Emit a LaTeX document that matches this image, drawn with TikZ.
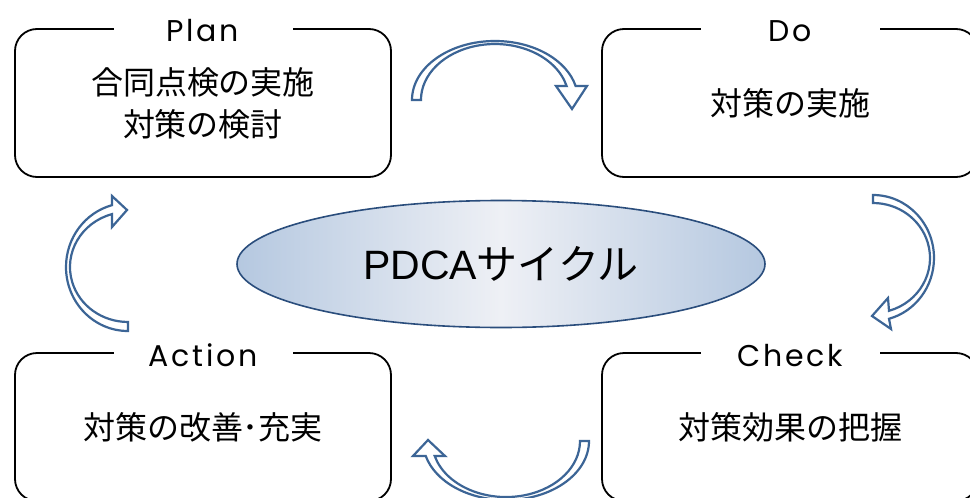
\documentclass[tikz,border=0pt]{standalone}
\usepackage{fontspec}
\setmainfont{Noto Sans CJK JP}
\newfontfamily\titlefont[LetterSpace=9]{Poppins}
\newfontfamily\latinfont{Liberation Sans}
\usetikzlibrary{shapes.geometric}
\definecolor{arrowblue}{RGB}{60,101,150}
\definecolor{ellborder}{RGB}{42,77,124}
\definecolor{ellblue}{RGB}{181,200,224}
\definecolor{elllight}{RGB}{238,240,245}
\tikzset{
  stagebox/.style={draw=black, line width=1.8pt, rounded corners=22pt,
    minimum width=376pt, minimum height=148pt, align=center, inner sep=0pt,
    font=\fontsize{32}{42}\selectfont},
  stagetitle/.style={fill=white, minimum width=179pt, inner xsep=0pt, inner ysep=3pt,
    anchor=base, font=\titlefont\fontsize{30}{32}\selectfont},
  cyclearrow/.style={draw=arrowblue, line width=2.2pt, fill=white, line join=miter},
}
\begin{document}
\begin{tikzpicture}[x=1pt,y=-1pt]
\path[use as bounding box, clip] (0,0) rectangle (970,498);
\fill[white] (0,0) rectangle (970,498);
% stage boxes
\node[stagebox] (plan) at (203,103) {合同点検の実施\\対策の検討};
\node[stagebox] (do) at (790,103) {対策の実施};
\node[stagebox] (action) at (203,427) {対策の改善･充実};
\node[stagebox] (check) at (790,427) {対策効果の把握};
% titles
\node[stagetitle] (plant) at (203,41) {Plan};
\node[stagetitle] (dot) at (790,41) {Do};
\node[stagetitle] (actiont) at (203,366) {Action};
\node[stagetitle] (checkt) at (790,366) {Check};
% centre ellipse
\node[ellipse, draw=ellborder, line width=1.6pt, minimum width=528pt, minimum height=127pt,
  inner sep=0pt, left color=ellblue, right color=ellblue, middle color=elllight,
  font=\fontsize{41}{44}\selectfont] (pdca) at (501,264) {{\latinfont PDCA}サイクル};
% curved block arrows
\draw[cyclearrow] (412,100) arc[start angle=180, end angle=346.3, x radius=83, y radius=59]
  -- (587,86) -- (572,109) -- (556,86) -- (566.6,86)
  arc[start angle=345.5, end angle=180, x radius=74, y radius=56] -- cycle;
\draw[cyclearrow] (873,195) arc[start angle=270, end angle=434.8, x radius=61, y radius=63]
  -- (891,329) -- (872,316) -- (888,298) -- (889,310.8)
  arc[start angle=433.7, end angle=270, x radius=57, y radius=55] -- cycle;
\draw[cyclearrow] (589,441) arc[start angle=0, end angle=165.3, x radius=83, y radius=59]
  -- (413,456) -- (428,440) -- (445,456) -- (434.7,456)
  arc[start angle=164.5, end angle=0, x radius=74, y radius=56] -- cycle;
\draw[cyclearrow] (128,331) arc[start angle=90, end angle=255, x radius=62, y radius=64]
  -- (112,196) -- (127,210) -- (112,227) -- (112,214.1)
  arc[start angle=254, end angle=90, x radius=58, y radius=55] -- cycle;
\end{tikzpicture}
\end{document}
